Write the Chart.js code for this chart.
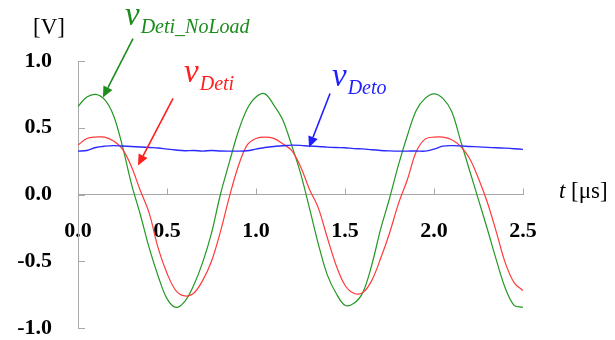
<!DOCTYPE html>
<html>
<head>
<meta charset="utf-8">
<script src="https://cdn.jsdelivr.net/npm/chart.js@4.4.0/dist/chart.umd.min.js"></script>
<style>
  html, body { margin: 0; padding: 0; background: #fff; }
  #wrap { width: 615px; height: 340px; }
</style>
</head>
<body>
<div id="wrap"><canvas id="chart"></canvas></div>
<script>
// time axis in microseconds
const times = [0.00, 0.05, 0.10, 0.15, 0.20, 0.25, 0.30, 0.35, 0.40, 0.45,
               0.50, 0.55, 0.60, 0.65, 0.70, 0.75, 0.80, 0.85, 0.90, 0.95,
               1.00, 1.05, 1.10, 1.15, 1.20, 1.25, 1.30, 1.35, 1.40, 1.45,
               1.50, 1.55, 1.60, 1.65, 1.70, 1.75, 1.80, 1.85, 1.90, 1.95,
               2.00, 2.05, 2.10, 2.15, 2.20, 2.25, 2.30, 2.35, 2.40, 2.45, 2.50];

// detector input, no load [V]
const vDetiNoLoad = [0.66, 0.73, 0.75, 0.71, 0.59, 0.36, 0.08, -0.15, -0.40, -0.61,
                     -0.78, -0.845, -0.80, -0.68, -0.51, -0.29, 0.00, 0.24, 0.47, 0.64,
                     0.73, 0.754, 0.67, 0.56, 0.37, 0.16, -0.10, -0.37, -0.60, -0.74,
                     -0.83, -0.815, -0.735, -0.53, -0.26, -0.03, 0.22, 0.44, 0.63, 0.72,
                     0.754, 0.72, 0.62, 0.40, 0.18, -0.04, -0.26, -0.49, -0.70, -0.83, -0.845];

// detector input [V]
const vDeti = [0.37, 0.42, 0.43, 0.43, 0.40, 0.34, 0.21, 0.03, -0.14, -0.40,
               -0.59, -0.72, -0.76, -0.74, -0.645, -0.50, -0.28, -0.02, 0.21, 0.37,
               0.42, 0.43, 0.42, 0.38, 0.33, 0.21, 0.04, -0.10, -0.32, -0.53,
               -0.68, -0.74, -0.735, -0.645, -0.48, -0.29, -0.07, 0.11, 0.32, 0.415,
               0.43, 0.43, 0.41, 0.36, 0.27, 0.12, -0.06, -0.28, -0.51, -0.66, -0.72];

// detector output [V]
const vDeto = [0.325, 0.33, 0.352, 0.362, 0.366, 0.363, 0.36, 0.356, 0.352, 0.348,
               0.34, 0.333, 0.328, 0.33, 0.325, 0.33, 0.326, 0.325, 0.325, 0.328,
               0.34, 0.352, 0.36, 0.365, 0.37, 0.368, 0.362, 0.36, 0.355, 0.352,
               0.35, 0.344, 0.342, 0.335, 0.33, 0.327, 0.325, 0.325, 0.326, 0.325,
               0.34, 0.362, 0.366, 0.364, 0.36, 0.357, 0.353, 0.35, 0.347, 0.343, 0.338];

const xTicks = [0, 0.5, 1.0, 1.5, 2.0, 2.5];
const yTicks = [-1.0, -0.5, 0.0, 0.5, 1.0];

// curve labels: text position, arrow tail and arrow tip, all in data units
const curveLabels = [
  { sub: 'Deti_NoLoad', color: '#1c8c1c', at: [0.264, 1.266], tail: [0.309, 1.168], tip: [0.14, 0.727] },
  { sub: 'Deti', color: '#ff1f1f', at: [0.596, 0.839], tail: [0.534, 0.72], tip: [0.337, 0.217] },
  { sub: 'Deto', color: '#1f1fff', at: [1.427, 0.816], tail: [1.416, 0.757], tip: [1.298, 0.352] }
];

const SERIF = '"Liberation Serif", "Times New Roman", serif';

function pts(ys) {
  return times.map((t, i) => ({ x: t, y: ys[i] }));
}

function arrow(ctx, x1, y1, x2, y2, color) {
  const a = Math.atan2(y2 - y1, x2 - x1);
  const len = 11, hw = 5;
  const bx = x2 - len * Math.cos(a), by = y2 - len * Math.sin(a);
  ctx.strokeStyle = color;
  ctx.fillStyle = color;
  ctx.lineWidth = 1.6;
  ctx.beginPath();
  ctx.moveTo(x1, y1);
  ctx.lineTo(bx, by);
  ctx.stroke();
  ctx.beginPath();
  ctx.moveTo(x2, y2);
  ctx.lineTo(bx + hw * Math.sin(a), by - hw * Math.cos(a));
  ctx.lineTo(bx - hw * Math.sin(a), by + hw * Math.cos(a));
  ctx.closePath();
  ctx.fill();
}

const extras = {
  id: 'extras',
  afterDraw(chart) {
    const { ctx, chartArea, scales: { x, y } } = chart;
    ctx.save();

    // inward tick marks
    ctx.strokeStyle = '#a8a8a8';
    ctx.lineWidth = 1;
    yTicks.forEach(v => {
      const py = Math.round(y.getPixelForValue(v)) + 0.5;
      ctx.beginPath();
      ctx.moveTo(chartArea.left, py);
      ctx.lineTo(chartArea.left + 7, py);
      ctx.stroke();
    });
    const y0 = y.getPixelForValue(0);
    xTicks.forEach(t => {
      const px = Math.round(x.getPixelForValue(t)) + 0.5;
      ctx.beginPath();
      ctx.moveTo(px, y0);
      ctx.lineTo(px, y0 - 6);
      ctx.stroke();
    });

    // axis units
    ctx.fillStyle = '#000';
    ctx.textBaseline = 'alphabetic';
    ctx.textAlign = 'left';
    ctx.font = '23px ' + SERIF;
    ctx.fillText('[V]', 33, 34);
    ctx.font = 'italic 23px ' + SERIF;
    ctx.fillText('t', 559, 198);
    ctx.font = '23px ' + SERIF;
    ctx.fillText('[\u03bcs]', 571, 198);

    // curve names with arrows
    curveLabels.forEach(l => {
      const lx = x.getPixelForValue(l.at[0]), ly = y.getPixelForValue(l.at[1]);
      ctx.fillStyle = l.color;
      ctx.font = 'italic 33px ' + SERIF;
      ctx.fillText('v', lx, ly);
      const w = ctx.measureText('v').width;
      ctx.font = 'italic 20px ' + SERIF;
      ctx.fillText(l.sub, lx + w + 1, ly + 8);
      arrow(ctx,
        x.getPixelForValue(l.tail[0]), y.getPixelForValue(l.tail[1]),
        x.getPixelForValue(l.tip[0]), y.getPixelForValue(l.tip[1]),
        l.color);
    });

    ctx.restore();
  }
};

new Chart(document.getElementById('chart'), {
  type: 'line',
  data: {
    datasets: [
      { label: 'vDeto', data: pts(vDeto), borderColor: '#2a2aff', borderWidth: 1.4 },
      { label: 'vDeti', data: pts(vDeti), borderColor: '#ff3a3a', borderWidth: 1.2 },
      { label: 'vDeti_NoLoad', data: pts(vDetiNoLoad), borderColor: '#239823', borderWidth: 1.2 }
    ]
  },
  options: {
    responsive: true,
    maintainAspectRatio: false,
    animation: false,
    layout: { padding: { left: 0, top: 61, right: 92, bottom: 12 } },
    elements: {
      point: { radius: 0 },
      line: { tension: 0.35, fill: false }
    },
    plugins: {
      legend: { display: false },
      tooltip: { enabled: false }
    },
    scales: {
      x: {
        type: 'linear',
        min: 0,
        max: 2.5,
        position: { y: 0 },
        afterFit: s => { s.height = 0; s.paddingLeft = 0; s.paddingRight = 0; },
        afterBuildTicks: s => { s.ticks = xTicks.map(v => ({ value: v })); },
        grid: { drawOnChartArea: false, drawTicks: false },
        border: { color: '#a8a8a8', width: 1 },
        ticks: {
          autoSkip: false,
          maxRotation: 0,
          padding: 24,
          color: '#000',
          font: { family: SERIF, size: 22, weight: 'bold' },
          callback: v => v.toFixed(1)
        }
      },
      y: {
        min: -1,
        max: 1,
        afterFit: s => { s.width = 78; s.paddingTop = 0; s.paddingBottom = 0; },
        afterBuildTicks: s => { s.ticks = yTicks.map(v => ({ value: v })); },
        grid: { drawOnChartArea: false, drawTicks: false },
        border: { color: '#a8a8a8', width: 1 },
        ticks: {
          padding: 26,
          color: '#000',
          font: { family: SERIF, size: 22, weight: 'bold' },
          callback: v => v.toFixed(1)
        }
      }
    }
  },
  plugins: [extras]
});
</script>
</body>
</html>
